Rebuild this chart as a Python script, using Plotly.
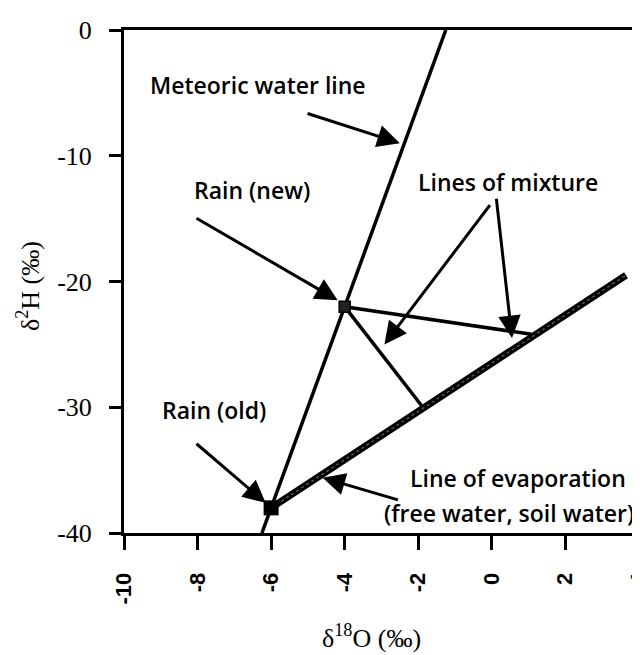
import plotly.graph_objects as go

# ---- data (delta-18O, delta-2H in permil) ----
mwl_x = [-6.25, -1.25]          # meteoric water line  d2H = 8*d18O + 10
mwl_y = [-40, 0]
evap_x = [-6.0, 3.65]           # line of evaporation
evap_y = [-38.0, -19.5]
mix1_x = [-4.0, 1.08]           # mixture line to evaporated water
mix1_y = [-22.0, -24.2]
mix2_x = [-4.0, -1.9]
mix2_y = [-22.0, -29.9]
rain_new = (-4.0, -22.0)
rain_old = (-6.0, -38.0)

x_ticks = [-10, -8, -6, -4, -2, 0, 2, 4]
x_ticktext = ["-10", "-8", "-6", "-4", "-2", "0", "2", "4"]
y_ticks = [0, -10, -20, -30, -40]
y_ticktext = ["0", "-10", "-20", "-30", "-40"]

# labels: (text, x, y, xanchor)
labels = [
    ("Meteoric water line", -9.35, -4.4, "left"),
    ("Rain (new)", -8.16, -12.7, "left"),
    ("Lines of mixture", 0.45, -12.1, "center"),
    ("Rain (old)", -9.02, -30.2, "left"),
    ("Line of evaporation", 0.7, -35.6, "center"),
    ("(free water, soil water)", 3.92, -38.4, "right"),
]
# arrows: (tail_x, tail_y, head_x, head_y)
arrows = [
    (-5.05, -6.6, -2.5, -9.0),
    (-8.07, -14.9, -4.19, -21.5),
    (-0.02, -13.8, -2.92, -25.0),
    (0.12, -13.3, 0.55, -24.5),
    (-8.07, -32.8, -6.15, -37.6),
    (-2.51, -37.4, -4.6, -35.6),
]

fig = go.Figure()
fig.add_trace(go.Scatter(x=mwl_x, y=mwl_y, mode="lines",
                         line=dict(color="black", width=3.5), showlegend=False))
fig.add_trace(go.Scatter(x=evap_x, y=evap_y, mode="lines",
                         line=dict(color="black", width=7), showlegend=False))
fig.add_trace(go.Scatter(x=evap_x, y=evap_y, mode="lines",
                         line=dict(color="#666", width=1.2, dash="dot"), showlegend=False))
fig.add_trace(go.Scatter(x=mix1_x, y=mix1_y, mode="lines",
                         line=dict(color="black", width=3.5), showlegend=False))
fig.add_trace(go.Scatter(x=mix2_x, y=mix2_y, mode="lines",
                         line=dict(color="black", width=3.5), showlegend=False))
fig.add_trace(go.Scatter(x=[rain_new[0]], y=[rain_new[1]], mode="markers",
                         marker=dict(symbol="square", size=11, color="#222",
                                     line=dict(color="black", width=1.5)),
                         showlegend=False))
fig.add_trace(go.Scatter(x=[rain_old[0]], y=[rain_old[1]], mode="markers",
                         marker=dict(symbol="square", size=15, color="black"),
                         showlegend=False))

annotations = []
for text, x, y, xa in labels:
    annotations.append(dict(text=text, x=x, y=y, xref="x", yref="y",
                            xanchor=xa, yanchor="middle", showarrow=False,
                            font=dict(family="Open Sans", size=23, color="black", weight=600)))
for tx, ty, hx, hy in arrows:
    annotations.append(dict(text="", x=hx, y=hy, ax=tx, ay=ty, xref="x", yref="y",
                            axref="x", ayref="y", showarrow=True, arrowhead=2,
                            arrowsize=1.5, arrowwidth=3, arrowcolor="black"))
annotations.append(dict(text="δ<sup>18</sup>O (‰)", x=0.479, y=-0.205, xref="paper", yref="paper",
                        showarrow=False, xanchor="center", yanchor="middle",
                        font=dict(family="Liberation Serif", size=26, color="black")))
annotations.append(dict(text="δ<sup>2</sup>H (‰)", x=-0.185, y=0.49, xref="paper", yref="paper",
                        showarrow=False, xanchor="center", yanchor="middle", textangle=-90,
                        font=dict(family="Liberation Serif", size=26, color="black")))

fig.update_layout(
    width=632, height=647,
    margin=dict(l=116, r=0, t=22, b=122, autoexpand=False),
    paper_bgcolor="white", plot_bgcolor="white",
    annotations=annotations,
    xaxis=dict(range=[-10, 4.03], tickvals=x_ticks, ticktext=x_ticktext, tickangle=-90,
               ticks="outside", ticklen=14, tickwidth=3, tickcolor="black",
               showline=True, linewidth=3, linecolor="black", mirror=True,
               showgrid=False, zeroline=False, ticklabelstandoff=14,
               ticklabeloverflow="allow", automargin=False,
               tickfont=dict(family="Liberation Sans", size=22, color="black", weight="bold")),
    yaxis=dict(range=[-40, 0], tickvals=y_ticks, ticktext=y_ticktext,
               ticks="outside", ticklen=12, tickwidth=3, tickcolor="black",
               showline=True, linewidth=3, linecolor="black",
               showgrid=False, zeroline=False, ticklabelstandoff=12, automargin=False,
               tickfont=dict(family="Liberation Serif", size=26, color="black")),
)

fig.write_html("out.html")
